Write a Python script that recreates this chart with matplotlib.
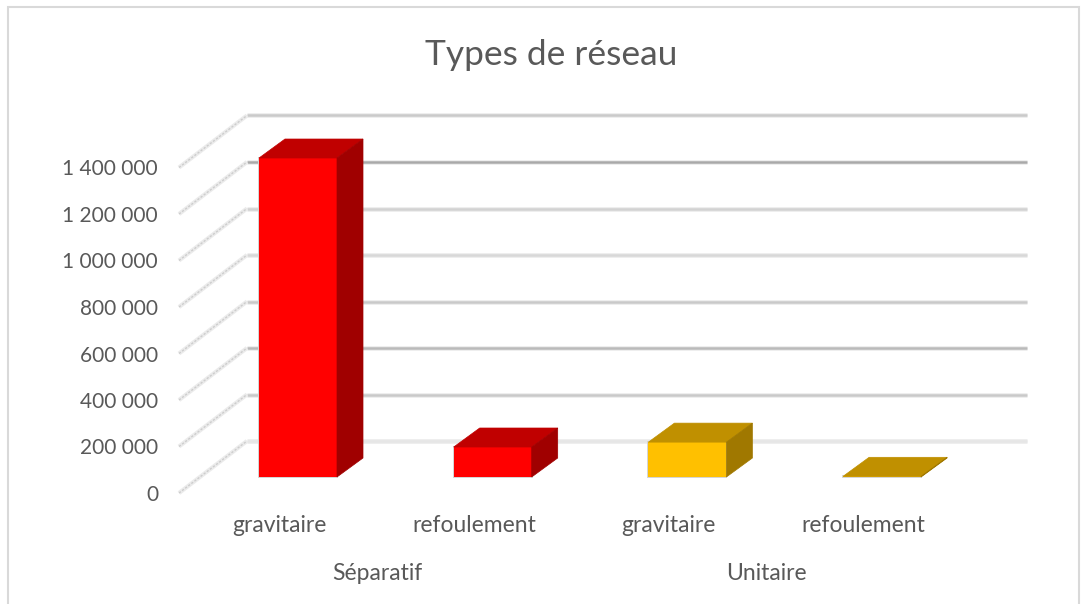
import matplotlib
matplotlib.use('Agg')
import matplotlib.pyplot as plt
from matplotlib.patches import Polygon, Rectangle

# data
groups = ['Séparatif', 'Unitaire']
categories = ['gravitaire', 'refoulement', 'gravitaire', 'refoulement']
values = [1372000, 129000, 150000, 3000]
yticks = [0, 200000, 400000, 600000, 800000, 1000000, 1200000, 1400000]
ytick_labels = ['0', '200 000', '400 000', '600 000', '800 000', '1 000 000', '1 200 000', '1 400 000']
grid_colors = ['#e6e6e6', '#c9c9c9', '#bababa', '#c9c9c9', '#d8d8d8', '#d2d2d2', '#a9a9a9', '#cacaca']

front_cols = ['#ff0000', '#ff0000', '#ffc000', '#ffc000']
top_cols = ['#c00000', '#c00000', '#c09000', '#c09000']
side_cols = ['#a00000', '#a00000', '#a07800', '#a07800']

plt.rcParams['font.family'] = ['Lato', 'DejaVu Sans']
W, H = 1087, 604
fig = plt.figure(figsize=(W / 100, H / 100), dpi=100)

# chart frame
fig.add_artist(Rectangle((8 / W, -0.01), (1079 - 8) / W, 1.01 - 7 / H, transform=fig.transFigure,
                         fc='white', ec='#d9d9d9', lw=1.5, zorder=-1))

# axes in pixels: category 0 centre at x=298, step 194.7, value 0 at y=477, 46.5px per 200000
left, right, top, bottom = 170, 1040, 100, 505
ax = fig.add_axes([left / W, 1 - bottom / H, (right - left) / W, (bottom - top) / H])
ax.patch.set_alpha(0)
step = 194.7
per_px = 200000 / 46.5
ax.set_xlim((left - 298) / step, (right - 298) / step)
ax.set_ylim((477 - bottom) * per_px, (477 - top) * per_px)
for s in ax.spines.values():
    s.set_visible(False)

# bar depth and wall offsets, data units
depth_x = 26 / step
depth_y = 19 * per_px
wall_x = 247
wall_dy = 36 * per_px
front_dy = -16 * per_px
label_dy = -18 * per_px
wall_x0 = (wall_x - 298) / step
wall_x1 = (1027 - 298) / step
front_x0 = (179 - 298) / step

# back wall and side wall lines, wide pale line under each one for the soft look
for v, c in zip(yticks, grid_colors):
    ax.plot([wall_x0, wall_x1], [v + wall_dy, v + wall_dy], color='#eeeeee', lw=3.6, zorder=1,
            solid_capstyle='butt')
    ax.plot([wall_x0, wall_x1], [v + wall_dy, v + wall_dy], color=c, lw=1.8, zorder=1,
            solid_capstyle='butt')
    ax.plot([front_x0, wall_x0], [v + front_dy, v + wall_dy], color='#ebebeb', lw=3.0, zorder=1,
            solid_capstyle='butt')
    ax.plot([front_x0, wall_x0], [v + front_dy, v + wall_dy], color='#cdcdcd', lw=1.0, zorder=1,
            ls=(0, (1.6, 1.2)))

# bars, the grey edge stays behind so only a thin rim shows
bar_w = 78 / step
xs = list(range(len(values)))
ax.bar(xs, values, width=bar_w, color='none', edgecolor='#d4d4d4', linewidth=1.4, zorder=2)
ax.bar(xs, values, width=bar_w, color=front_cols, zorder=3)
for x, v, tc, sc in zip(xs, values, top_cols, side_cols):
    x0, x1 = x - bar_w / 2, x + bar_w / 2
    ax.add_patch(Polygon([(x0, v), (x1, v), (x1 + depth_x, v + depth_y), (x0 + depth_x, v + depth_y)],
                         fc=tc, ec=tc, lw=0.5, zorder=3))
    ax.add_patch(Polygon([(x1, 0), (x1 + depth_x, depth_y), (x1 + depth_x, v + depth_y), (x1, v)],
                         fc=sc, ec=sc, lw=0.5, zorder=3))

# y labels on the front edge of the side wall
for v, lab in zip(yticks, ytick_labels):
    ax.text((158 - 298) / step, v + label_dy, lab, ha='right', va='center', fontsize=15,
            color='#595959', clip_on=False)

# category labels sit 18px left of the bars
ax.set_xticks([x - 18.5 / step for x in xs], categories)
ax.set_yticks([])
ax.tick_params(axis='x', length=0, pad=7, labelsize=16.5, labelcolor='#595959')

# group labels
for i, g in enumerate(groups):
    gx = (xs[2 * i] + xs[2 * i + 1]) / 2 - 18.5 / step
    ax.annotate(g, (gx, 0), xycoords=('data', 'axes fraction'), xytext=(0, -69),
                textcoords='offset pixels', ha='center', va='center', fontsize=16.5, color='#595959')

fig.text(551 / W, 1 - 55 / H, 'Types de réseau', ha='center', va='center', fontsize=25.5, color='#595959')

fig.savefig('out.png', dpi=100)
